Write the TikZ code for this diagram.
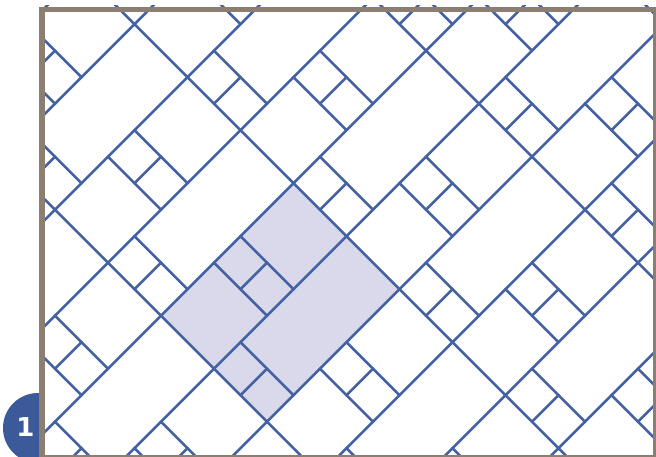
\documentclass[tikz,border=0pt]{standalone}
\usepackage{fontspec}
\newfontfamily\badgefont{DejaVu Sans}
\definecolor{TileInk}{HTML}{4563A3}
\definecolor{TileShade}{HTML}{D9D9EB}
\definecolor{FrameInk}{HTML}{8C7F72}
\definecolor{BadgeFill}{HTML}{3C5A99}
% one repeating tile, offset (#1,#2) in tile units
\newcommand{\TileUnit}[2]{%
  \draw[tileline] (#1,#2) rectangle ++(2,2);
  \draw[tileline] (#1,#2+2) rectangle ++(1,1);
  \draw[tileline] (#1+1,#2+2) rectangle ++(1,1);
  \draw[tileline] (#1,#2+3) rectangle ++(2,2);
  \draw[tileline] (#1+2,#2+1) rectangle ++(2,4);
  \draw[tileline] (#1+2,#2) rectangle ++(1,1);
  \draw[tileline] (#1+3,#2) rectangle ++(1,1);
}
\tikzset{
  figure/.style={x=1pt,y=1pt},
  tilegrid/.style={shift={(161pt,-315.7pt)},rotate=-45,x=37.48pt,y=37.48pt},
  tileline/.style={draw=TileInk,line width=2.3pt,line join=miter},
  frameline/.style={draw=FrameInk},
  badgetext/.style={font=\badgefont\bfseries\fontsize{26}{26}\selectfont,text=white,inner sep=0pt},
}
\begin{document}
\begin{tikzpicture}[figure]
  \useasboundingbox[fill=white] (0,0) rectangle (656,-457);

  % badge, half hidden by the frame
  \begin{scope}
    \clip (0,0) rectangle (41,-457);
    \fill[BadgeFill] (38,-428) circle (35);
  \end{scope}
  \node[badgetext] (badge) at (25.3,-427.2) {1};

  % tiling
  \begin{scope}
    \clip (39.8,-6) rectangle (655,-456.5);
    \begin{scope}[tilegrid]
      \fill[TileShade] (0,0) rectangle (4,5);
      \foreach \j in {-3,...,4} {
        \foreach \i in {-5,...,6} {
          \pgfmathtruncatemacro{\ou}{4*\i-2*\j}
          \pgfmathtruncatemacro{\ov}{5*\j}
          \TileUnit{\ou}{\ov}
        }
      }
    \end{scope}
  \end{scope}

  % frame
  \draw[frameline,line width=2.3pt] (654.5,-9) -- (654.5,-456.2) -- (42,-456.2);
  \draw[frameline,line width=5.6pt] (42.2,-457) -- (42.2,-9.4) -- (656,-9.4);
\end{tikzpicture}
\end{document}
